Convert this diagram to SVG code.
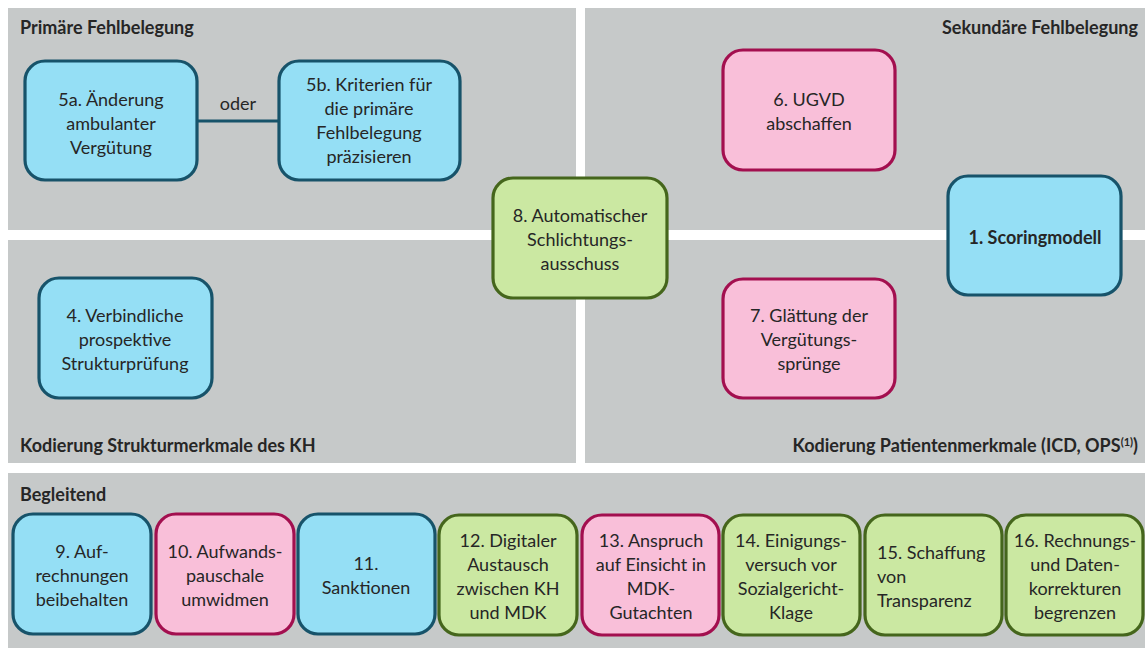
<svg xmlns="http://www.w3.org/2000/svg" width="1145" height="651" viewBox="0 0 1145 651">
<style>
.panel{fill:#c6c9c9}
.hd{font-family:Lato,"Open Sans","Liberation Sans",sans-serif;font-weight:bold;font-size:18px;fill:#262626}
.t{font-family:Lato,"Open Sans","Liberation Sans",sans-serif;font-size:18px;fill:#262626;text-anchor:middle}
.tl{text-anchor:start}
.b{font-weight:bold}
.blue{fill:#95dff5;stroke:#17536a;stroke-width:3.2}
.pink{fill:#f9bfd9;stroke:#a30f4f;stroke-width:3.2}
.green{fill:#cbe8a2;stroke:#45661c;stroke-width:3.2}
.conn{stroke:#17536a;stroke-width:3;fill:none}
</style>
<rect width="1145" height="651" fill="#ffffff"/>
<g id="panels">
<rect class="panel" x="8" y="8" width="568" height="222"/>
<rect class="panel" x="585" y="8" width="560" height="222"/>
<rect class="panel" x="8" y="240" width="568" height="223"/>
<rect class="panel" x="585" y="240" width="560" height="223"/>
<rect class="panel" x="8" y="473" width="1137" height="175"/>
<text class="hd" x="20" y="34">Primäre Fehlbelegung</text>
<text class="hd" x="1138" y="34" text-anchor="end">Sekundäre Fehlbelegung</text>
<text class="hd" x="20" y="452">Kodierung Strukturmerkmale des KH</text>
<text class="hd" x="1138" y="452" text-anchor="end">Kodierung Patientenmerkmale (ICD, OPS<tspan font-size="11" dy="-6">(1)</tspan><tspan dy="6">)</tspan></text>
<text class="hd" x="20" y="501">Begleitend</text>
</g>
<g id="connectors">
<line class="conn" x1="197" y1="121" x2="279" y2="121"/>
<text class="t" x="238" y="110">oder</text>
</g>
<g id="n5a"><rect class="blue" x="25" y="61" width="172" height="119" rx="20"/>
<text class="t" x="111" y="106">5a. Änderung</text><text class="t" x="111" y="130">ambulanter</text><text class="t" x="111" y="154">Vergütung</text></g>
<g id="n5b"><rect class="blue" x="279" y="61" width="181" height="119" rx="20"/>
<text class="t" x="369" y="91">5b. Kriterien für</text><text class="t" x="369" y="115">die primäre</text><text class="t" x="369" y="139">Fehlbelegung</text><text class="t" x="369" y="163">präzisieren</text></g>
<g id="n6"><rect class="pink" x="723" y="50" width="172" height="120" rx="20"/>
<text class="t" x="809" y="106">6. UGVD</text><text class="t" x="809" y="130">abschaffen</text></g>
<g id="n1"><rect class="blue" x="948" y="176" width="173" height="119" rx="20"/>
<text class="t b" x="1035" y="244">1. Scoringmodell</text></g>
<g id="n8"><rect class="green" x="493" y="178" width="174" height="120" rx="20"/>
<text class="t" x="580" y="222">8. Automatischer</text><text class="t" x="580" y="246">Schlichtungs-</text><text class="t" x="580" y="270">ausschuss</text></g>
<g id="n4"><rect class="blue" x="39" y="278" width="173" height="120" rx="20"/>
<text class="t" x="125" y="322">4. Verbindliche</text><text class="t" x="125" y="346">prospektive</text><text class="t" x="125" y="370">Strukturprüfung</text></g>
<g id="n7"><rect class="pink" x="723" y="279" width="172" height="119" rx="20"/>
<text class="t" x="809" y="322">7. Glättung der</text><text class="t" x="809" y="346">Vergütungs-</text><text class="t" x="809" y="370">sprünge</text></g>
<g id="n9"><rect class="blue" x="13" y="514" width="138" height="120" rx="20"/>
<text class="t" x="82" y="558">9. Auf-</text><text class="t" x="82" y="582">rechnungen</text><text class="t" x="82" y="606">beibehalten</text></g>
<g id="n10"><rect class="pink" x="156" y="514" width="138" height="120" rx="20"/>
<text class="t" x="225" y="558">10. Aufwands-</text><text class="t" x="225" y="582">pauschale</text><text class="t" x="225" y="606">umwidmen</text></g>
<g id="n11"><rect class="blue" x="298" y="514" width="137" height="120" rx="20"/>
<text class="t" x="366" y="570">11.</text><text class="t" x="366" y="594">Sanktionen</text></g>
<g id="n12"><rect class="green" x="439" y="515" width="138" height="120" rx="20"/>
<text class="t" x="508" y="547">12. Digitaler</text><text class="t" x="508" y="571">Austausch</text><text class="t" x="508" y="595">zwischen KH</text><text class="t" x="508" y="619">und MDK</text></g>
<g id="n13"><rect class="pink" x="582" y="515" width="137" height="120" rx="20"/>
<text class="t" x="651" y="547">13. Anspruch</text><text class="t" x="651" y="571">auf Einsicht in</text><text class="t" x="651" y="595">MDK-</text><text class="t" x="651" y="619">Gutachten</text></g>
<g id="n14"><rect class="green" x="723" y="515" width="137" height="120" rx="20"/>
<text class="t" x="791" y="547">14. Einigungs-</text><text class="t" x="791" y="571">versuch vor</text><text class="t" x="791" y="595">Sozialgericht-</text><text class="t" x="791" y="619">Klage</text></g>
<g id="n15"><rect class="green" x="865" y="515" width="137" height="120" rx="20"/>
<text class="t tl" x="877" y="559">15. Schaffung</text><text class="t tl" x="877" y="583">von</text><text class="t tl" x="877" y="607">Transparenz</text></g>
<g id="n16"><rect class="green" x="1006" y="515" width="137" height="120" rx="20"/>
<text class="t" x="1075" y="547">16. Rechnungs-</text><text class="t" x="1075" y="571">und Daten-</text><text class="t" x="1075" y="595">korrekturen</text><text class="t" x="1075" y="619">begrenzen</text></g>
</svg>
